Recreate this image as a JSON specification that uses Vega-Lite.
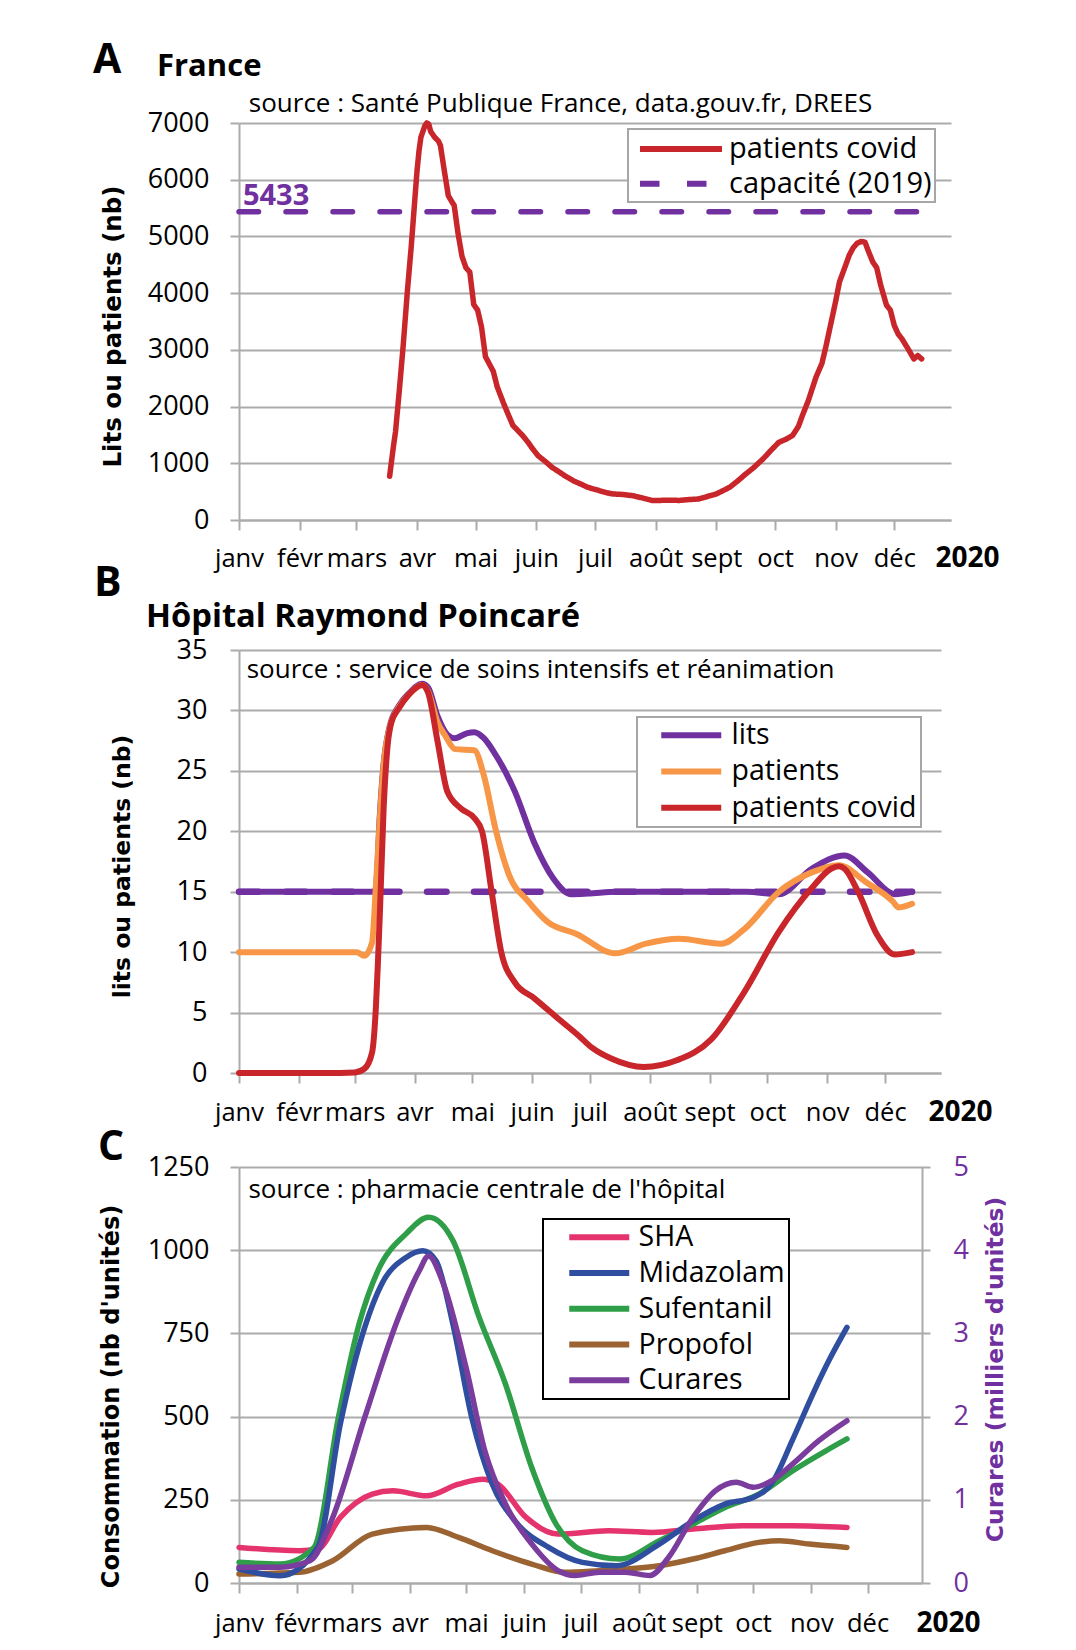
{
  "$schema": "https://vega.github.io/schema/vega-lite/v6.json",
  "background": "white",
  "padding": {"left": 93, "top": 39, "right": 2, "bottom": 2},
  "autosize": {"type": "pad"},
  "config": {
    "font": "Open Sans",
    "view": {"stroke": null},
    "axis": {"labelFont": "Open Sans", "labelFontSize": 27, "labelColor": "#000000", "titleFont": "DejaVu Sans", "titleFontSize": 23.5, "titleFontWeight": "bold", "titleColor": "#000000", "gridColor": "#ABABAB", "gridWidth": 2, "domainColor": "#ABABAB", "domainWidth": 2, "tickColor": "#ABABAB", "tickWidth": 2},
    "axisX": {"labelFontSize": 25.5},
    "legend": {"labelFont": "Open Sans", "labelColor": "#000000", "strokeWidth": 2, "fillColor": "#FFFFFF", "labelBaseline": "middle", "labelLimit": 400},
    "title": {"font": "Open Sans", "fontWeight": "bold", "color": "#000000", "anchor": "start", "frame": "group"}
  },
  "spacing": -9,
  "resolve": {"scale": {"color": "independent", "strokeDash": "independent"}, "legend": {"color": "independent", "strokeDash": "independent"}},
  "vconcat": [
    {
      "title": {"text": "A", "fontSize": 41, "dx": -146, "offset": -31},
      "resolve": {"scale": {"color": "independent", "strokeDash": "independent"}, "legend": {"color": "independent", "strokeDash": "independent"}},
      "vconcat": [
        {
          "width": 712,
          "height": 397,
          "title": {"text": "France", "fontSize": 31, "dx": -82, "offset": 8},
          "layer": [
            {
              "data": {"values": [
                {"d": "2020-03-18", "v": 770, "s": "patients covid"}, {"d": "2020-03-20", "v": 1310, "s": "patients covid"}, {"d": "2020-03-21", "v": 1550, "s": "patients covid"}, {"d": "2020-03-23", "v": 2300, "s": "patients covid"}, {"d": "2020-03-25", "v": 3100, "s": "patients covid"}, {"d": "2020-03-27", "v": 4000, "s": "patients covid"}, {"d": "2020-03-29", "v": 4800, "s": "patients covid"}, {"d": "2020-03-31", "v": 5700, "s": "patients covid"}, {"d": "2020-04-01", "v": 6150, "s": "patients covid"}, {"d": "2020-04-02", "v": 6500, "s": "patients covid"}, {"d": "2020-04-03", "v": 6750, "s": "patients covid"}, {"d": "2020-04-05", "v": 6950, "s": "patients covid"}, {"d": "2020-04-06", "v": 7000, "s": "patients covid"}, {"d": "2020-04-07", "v": 6980, "s": "patients covid"}, {"d": "2020-04-08", "v": 6850, "s": "patients covid"}, {"d": "2020-04-10", "v": 6750, "s": "patients covid"}, {"d": "2020-04-12", "v": 6680, "s": "patients covid"}, {"d": "2020-04-13", "v": 6600, "s": "patients covid"}, {"d": "2020-04-15", "v": 6150, "s": "patients covid"}, {"d": "2020-04-17", "v": 5720, "s": "patients covid"}, {"d": "2020-04-19", "v": 5600, "s": "patients covid"}, {"d": "2020-04-20", "v": 5550, "s": "patients covid"}, {"d": "2020-04-22", "v": 5050, "s": "patients covid"}, {"d": "2020-04-24", "v": 4650, "s": "patients covid"}, {"d": "2020-04-26", "v": 4450, "s": "patients covid"}, {"d": "2020-04-28", "v": 4370, "s": "patients covid"}, {"d": "2020-04-30", "v": 3800, "s": "patients covid"}, {"d": "2020-05-02", "v": 3700, "s": "patients covid"}, {"d": "2020-05-04", "v": 3400, "s": "patients covid"}, {"d": "2020-05-06", "v": 2880, "s": "patients covid"}, {"d": "2020-05-08", "v": 2750, "s": "patients covid"}, {"d": "2020-05-10", "v": 2620, "s": "patients covid"}, {"d": "2020-05-12", "v": 2350, "s": "patients covid"}, {"d": "2020-05-15", "v": 2080, "s": "patients covid"}, {"d": "2020-05-18", "v": 1830, "s": "patients covid"}, {"d": "2020-05-20", "v": 1670, "s": "patients covid"}, {"d": "2020-05-23", "v": 1560, "s": "patients covid"}, {"d": "2020-05-25", "v": 1490, "s": "patients covid"}, {"d": "2020-05-28", "v": 1360, "s": "patients covid"}, {"d": "2020-05-30", "v": 1260, "s": "patients covid"}, {"d": "2020-06-02", "v": 1130, "s": "patients covid"}, {"d": "2020-06-06", "v": 1020, "s": "patients covid"}, {"d": "2020-06-09", "v": 930, "s": "patients covid"}, {"d": "2020-06-13", "v": 840, "s": "patients covid"}, {"d": "2020-06-16", "v": 770, "s": "patients covid"}, {"d": "2020-06-20", "v": 690, "s": "patients covid"}, {"d": "2020-06-24", "v": 630, "s": "patients covid"}, {"d": "2020-06-27", "v": 580, "s": "patients covid"}, {"d": "2020-06-30", "v": 550, "s": "patients covid"}, {"d": "2020-07-04", "v": 510, "s": "patients covid"}, {"d": "2020-07-07", "v": 480, "s": "patients covid"}, {"d": "2020-07-10", "v": 460, "s": "patients covid"}, {"d": "2020-07-15", "v": 450, "s": "patients covid"}, {"d": "2020-07-20", "v": 430, "s": "patients covid"}, {"d": "2020-07-25", "v": 390, "s": "patients covid"}, {"d": "2020-07-30", "v": 345, "s": "patients covid"}, {"d": "2020-08-03", "v": 345, "s": "patients covid"}, {"d": "2020-08-08", "v": 350, "s": "patients covid"}, {"d": "2020-08-13", "v": 345, "s": "patients covid"}, {"d": "2020-08-18", "v": 360, "s": "patients covid"}, {"d": "2020-08-23", "v": 370, "s": "patients covid"}, {"d": "2020-08-27", "v": 410, "s": "patients covid"}, {"d": "2020-09-01", "v": 460, "s": "patients covid"}, {"d": "2020-09-04", "v": 510, "s": "patients covid"}, {"d": "2020-09-08", "v": 580, "s": "patients covid"}, {"d": "2020-09-12", "v": 690, "s": "patients covid"}, {"d": "2020-09-16", "v": 810, "s": "patients covid"}, {"d": "2020-09-20", "v": 920, "s": "patients covid"}, {"d": "2020-09-25", "v": 1080, "s": "patients covid"}, {"d": "2020-09-29", "v": 1230, "s": "patients covid"}, {"d": "2020-10-03", "v": 1370, "s": "patients covid"}, {"d": "2020-10-07", "v": 1430, "s": "patients covid"}, {"d": "2020-10-10", "v": 1490, "s": "patients covid"}, {"d": "2020-10-13", "v": 1650, "s": "patients covid"}, {"d": "2020-10-15", "v": 1840, "s": "patients covid"}, {"d": "2020-10-18", "v": 2100, "s": "patients covid"}, {"d": "2020-10-20", "v": 2310, "s": "patients covid"}, {"d": "2020-10-22", "v": 2520, "s": "patients covid"}, {"d": "2020-10-25", "v": 2760, "s": "patients covid"}, {"d": "2020-10-27", "v": 3050, "s": "patients covid"}, {"d": "2020-10-29", "v": 3370, "s": "patients covid"}, {"d": "2020-11-01", "v": 3850, "s": "patients covid"}, {"d": "2020-11-03", "v": 4200, "s": "patients covid"}, {"d": "2020-11-06", "v": 4480, "s": "patients covid"}, {"d": "2020-11-08", "v": 4670, "s": "patients covid"}, {"d": "2020-11-10", "v": 4800, "s": "patients covid"}, {"d": "2020-11-12", "v": 4880, "s": "patients covid"}, {"d": "2020-11-14", "v": 4910, "s": "patients covid"}, {"d": "2020-11-16", "v": 4900, "s": "patients covid"}, {"d": "2020-11-18", "v": 4720, "s": "patients covid"}, {"d": "2020-11-20", "v": 4550, "s": "patients covid"}, {"d": "2020-11-22", "v": 4450, "s": "patients covid"}, {"d": "2020-11-24", "v": 4150, "s": "patients covid"}, {"d": "2020-11-27", "v": 3790, "s": "patients covid"}, {"d": "2020-11-29", "v": 3700, "s": "patients covid"}, {"d": "2020-12-01", "v": 3430, "s": "patients covid"}, {"d": "2020-12-03", "v": 3280, "s": "patients covid"}, {"d": "2020-12-05", "v": 3190, "s": "patients covid"}, {"d": "2020-12-08", "v": 3020, "s": "patients covid"}, {"d": "2020-12-11", "v": 2840, "s": "patients covid"}, {"d": "2020-12-13", "v": 2900, "s": "patients covid"}, {"d": "2020-12-15", "v": 2840, "s": "patients covid"},
                {"d": "2020-01-01", "v": 5433, "s": "capacité (2019)"}, {"d": "2020-12-15", "v": 5433, "s": "capacité (2019)"}
              ]},
              "mark": {"type": "line", "strokeWidth": 5.5, "strokeCap": "round", "strokeJoin": "round"},
              "encoding": {
                "x": {"field": "d", "type": "temporal",
                  "scale": {"type": "utc", "domain": [{"year": 2020, "month": 1, "date": 1, "utc": true}, {"year": 2020, "month": 12, "date": 30, "utc": true}]},
                  "axis": {"values": [{"year": 2020, "month": 1, "date": 1, "utc": true}, {"year": 2020, "month": 2, "date": 1, "utc": true}, {"year": 2020, "month": 3, "date": 1, "utc": true}, {"year": 2020, "month": 4, "date": 1, "utc": true}, {"year": 2020, "month": 5, "date": 1, "utc": true}, {"year": 2020, "month": 6, "date": 1, "utc": true}, {"year": 2020, "month": 7, "date": 1, "utc": true}, {"year": 2020, "month": 8, "date": 1, "utc": true}, {"year": 2020, "month": 9, "date": 1, "utc": true}, {"year": 2020, "month": 10, "date": 1, "utc": true}, {"year": 2020, "month": 11, "date": 1, "utc": true}, {"year": 2020, "month": 12, "date": 1, "utc": true}],
                    "labelExpr": "['janv','févr','mars','avr','mai','juin','juil','août','sept','oct','nov','déc'][utcmonth(datum.value)]",
                    "grid": false, "tickSize": 10, "labelPadding": 36, "labelBaseline": "alphabetic", "labelAlign": "center", "labelFlush": false, "labelOverlap": false,
                    "title": "2020", "titleFont": "Open Sans", "titleFontSize": 28, "titleFontWeight": "bold", "titleX": 728, "titleY": 46, "titleAlign": "center", "titleBaseline": "alphabetic", "titleAngle": 0}},
                "y": {"field": "v", "type": "quantitative", "scale": {"domain": [0, 7000], "nice": false},
                  "axis": {"values": [0, 1000, 2000, 3000, 4000, 5000, 6000, 7000], "format": "d", "grid": true, "tickSize": 9, "labelPadding": 21, "labelBaseline": "middle",
                    "title": "Lits ou patients (nb)", "titleFontSize": 24.5, "titleX": -126, "titleY": 203, "titleAngle": -90, "titleAlign": "center", "titleBaseline": "middle"}},
                "color": {"field": "s", "type": "nominal", "scale": {"domain": ["patients covid", "capacité (2019)"], "range": ["#C8262B", "#7030A0"]},
                  "legend": {"orient": "none", "legendX": 389, "legendY": 6, "title": null, "symbolType": "M-3,0H3", "symbolSize": 747, "symbolStrokeWidth": 6, "symbolOffset": 33, "labelOffset": 31, "labelFontSize": 29, "padding": 3, "rowPadding": 2.7, "strokeColor": "#A6A6A6"}},
                "strokeDash": {"field": "s", "type": "nominal", "scale": {"domain": ["patients covid", "capacité (2019)"], "range": [[1, 0], [19.5, 27.5]]},
                  "legend": {"orient": "none", "legendX": 389, "legendY": 6, "title": null, "symbolType": "M-3,0H3", "symbolSize": 747, "symbolStrokeWidth": 6, "symbolOffset": 33, "labelOffset": 31, "labelFontSize": 29, "padding": 3, "rowPadding": 2.7, "strokeColor": "#A6A6A6"}}
              }
            },
            {
              "data": {"values": [{}]},
              "mark": {"type": "text", "text": "5433", "font": "Open Sans", "fontSize": 29, "fontWeight": "bold", "color": "#7030A0", "align": "left", "baseline": "alphabetic"},
              "encoding": {"x": {"datum": {"year": 2020, "month": 1, "date": 3, "utc": true}, "type": "temporal"}, "y": {"datum": 5553, "type": "quantitative"}}
            },
            {
              "data": {"values": [{}]},
              "mark": {"type": "text", "text": "source : Santé Publique France, data.gouv.fr, DREES", "font": "Open Sans", "fontSize": 26, "color": "#000000", "align": "left", "baseline": "alphabetic"},
              "encoding": {"x": {"datum": {"year": 2020, "month": 1, "date": 6, "utc": true}, "type": "temporal"}, "y": {"datum": 7194, "type": "quantitative"}}
            }
          ]
        }
      ]
    },
    {
      "spacing": 1,
      "resolve": {"scale": {"color": "independent", "strokeDash": "independent"}, "legend": {"color": "independent", "strokeDash": "independent"}},
      "vconcat": [
        {
          "title": {"text": "B", "fontSize": 41, "dx": -145, "offset": -4},
          "resolve": {"scale": {"color": "independent"}, "legend": {"color": "independent"}},
          "vconcat": [
            {
              "width": 702,
              "height": 423,
              "title": {"text": "Hôpital Raymond Poincaré", "fontSize": 32.7, "dx": -93, "offset": 2},
              "layer": [
                {
                  "data": {"values": [{"d": "2020-01-01", "v": 15}, {"d": "2020-12-15", "v": 15}]},
                  "mark": {"type": "line", "color": "#7030A0", "strokeWidth": 6.5, "strokeDash": [19.5, 27.5], "strokeCap": "round"},
                  "encoding": {
                    "x": {"field": "d", "type": "temporal",
                      "scale": {"type": "utc", "domain": [{"year": 2020, "month": 1, "date": 1, "utc": true}, {"year": 2020, "month": 12, "date": 30, "utc": true}]},
                      "axis": {"values": [{"year": 2020, "month": 1, "date": 1, "utc": true}, {"year": 2020, "month": 2, "date": 1, "utc": true}, {"year": 2020, "month": 3, "date": 1, "utc": true}, {"year": 2020, "month": 4, "date": 1, "utc": true}, {"year": 2020, "month": 5, "date": 1, "utc": true}, {"year": 2020, "month": 6, "date": 1, "utc": true}, {"year": 2020, "month": 7, "date": 1, "utc": true}, {"year": 2020, "month": 8, "date": 1, "utc": true}, {"year": 2020, "month": 9, "date": 1, "utc": true}, {"year": 2020, "month": 10, "date": 1, "utc": true}, {"year": 2020, "month": 11, "date": 1, "utc": true}, {"year": 2020, "month": 12, "date": 1, "utc": true}],
                        "labelExpr": "['janv','févr','mars','avr','mai','juin','juil','août','sept','oct','nov','déc'][utcmonth(datum.value)]",
                        "grid": false, "tickSize": 10, "labelPadding": 37, "labelBaseline": "alphabetic", "labelAlign": "center", "labelFlush": false, "labelOverlap": false,
                        "title": "2020", "titleFont": "Open Sans", "titleFontSize": 28, "titleFontWeight": "bold", "titleX": 721, "titleY": 47, "titleAlign": "center", "titleBaseline": "alphabetic", "titleAngle": 0}},
                    "y": {"field": "v", "type": "quantitative", "scale": {"domain": [0, 35], "nice": false},
                      "axis": {"values": [0, 5, 10, 15, 20, 25, 30, 35], "grid": true, "tickSize": 9, "labelPadding": 23, "labelBaseline": "middle",
                        "title": "lits ou patients (nb)", "titleX": -117, "titleY": 216, "titleAngle": -90, "titleAlign": "center", "titleBaseline": "middle"}}
                  }
                },
                {
                  "data": {"values": [
                    {"d": "2020-01-01", "v": 15, "s": "lits"}, {"d": "2020-03-11", "v": 15, "s": "lits"}, {"d": "2020-03-12", "v": 15.3, "s": "lits"}, {"d": "2020-03-14", "v": 21.3, "s": "lits"}, {"d": "2020-03-16", "v": 25.6, "s": "lits"}, {"d": "2020-03-19", "v": 28.6, "s": "lits"}, {"d": "2020-03-24", "v": 30.4, "s": "lits"}, {"d": "2020-03-29", "v": 31.4, "s": "lits"}, {"d": "2020-04-05", "v": 32.2, "s": "lits"}, {"d": "2020-04-08", "v": 31.9, "s": "lits"}, {"d": "2020-04-13", "v": 29.5, "s": "lits"}, {"d": "2020-04-18", "v": 28, "s": "lits"}, {"d": "2020-04-22", "v": 27.7, "s": "lits"}, {"d": "2020-04-28", "v": 28.1, "s": "lits"}, {"d": "2020-05-02", "v": 28.2, "s": "lits"}, {"d": "2020-05-07", "v": 27.7, "s": "lits"}, {"d": "2020-05-12", "v": 26.6, "s": "lits"}, {"d": "2020-05-23", "v": 23.3, "s": "lits"}, {"d": "2020-06-02", "v": 19.1, "s": "lits"}, {"d": "2020-06-12", "v": 16.1, "s": "lits"}, {"d": "2020-06-21", "v": 14.8, "s": "lits"}, {"d": "2020-06-30", "v": 14.85, "s": "lits"}, {"d": "2020-07-15", "v": 15, "s": "lits"}, {"d": "2020-09-20", "v": 15, "s": "lits"}, {"d": "2020-10-07", "v": 14.8, "s": "lits"}, {"d": "2020-10-24", "v": 16.9, "s": "lits"}, {"d": "2020-11-10", "v": 18, "s": "lits"}, {"d": "2020-11-22", "v": 16.6, "s": "lits"}, {"d": "2020-12-06", "v": 14.8, "s": "lits"}, {"d": "2020-12-15", "v": 15, "s": "lits"},
                    {"d": "2020-01-01", "v": 10, "s": "patients"}, {"d": "2020-03-02", "v": 10, "s": "patients"}, {"d": "2020-03-06", "v": 9.7, "s": "patients"}, {"d": "2020-03-10", "v": 10.8, "s": "patients"}, {"d": "2020-03-12", "v": 15.5, "s": "patients"}, {"d": "2020-03-14", "v": 21, "s": "patients"}, {"d": "2020-03-16", "v": 25.5, "s": "patients"}, {"d": "2020-03-19", "v": 28.5, "s": "patients"}, {"d": "2020-03-24", "v": 30.3, "s": "patients"}, {"d": "2020-03-29", "v": 31.3, "s": "patients"}, {"d": "2020-04-05", "v": 32.1, "s": "patients"}, {"d": "2020-04-08", "v": 31.6, "s": "patients"}, {"d": "2020-04-13", "v": 29, "s": "patients"}, {"d": "2020-04-17", "v": 27.9, "s": "patients"}, {"d": "2020-04-22", "v": 26.8, "s": "patients"}, {"d": "2020-05-02", "v": 26.7, "s": "patients"}, {"d": "2020-05-07", "v": 24.6, "s": "patients"}, {"d": "2020-05-13", "v": 20.2, "s": "patients"}, {"d": "2020-05-20", "v": 16.4, "s": "patients"}, {"d": "2020-05-30", "v": 14.2, "s": "patients"}, {"d": "2020-06-09", "v": 12.5, "s": "patients"}, {"d": "2020-06-24", "v": 11.5, "s": "patients"}, {"d": "2020-07-14", "v": 9.9, "s": "patients"}, {"d": "2020-07-30", "v": 10.7, "s": "patients"}, {"d": "2020-08-16", "v": 11.1, "s": "patients"}, {"d": "2020-09-07", "v": 10.7, "s": "patients"}, {"d": "2020-09-19", "v": 11.9, "s": "patients"}, {"d": "2020-10-07", "v": 15, "s": "patients"}, {"d": "2020-10-24", "v": 16.6, "s": "patients"}, {"d": "2020-11-07", "v": 17.2, "s": "patients"}, {"d": "2020-11-21", "v": 15.8, "s": "patients"}, {"d": "2020-12-05", "v": 14.2, "s": "patients"}, {"d": "2020-12-08", "v": 13.7, "s": "patients"}, {"d": "2020-12-15", "v": 14, "s": "patients"},
                    {"d": "2020-01-01", "v": 0, "s": "patients covid"}, {"d": "2020-02-15", "v": 0, "s": "patients covid"}, {"d": "2020-03-01", "v": 0.05, "s": "patients covid"}, {"d": "2020-03-06", "v": 0.35, "s": "patients covid"}, {"d": "2020-03-10", "v": 1.7, "s": "patients covid"}, {"d": "2020-03-12", "v": 5.5, "s": "patients covid"}, {"d": "2020-03-13", "v": 9, "s": "patients covid"}, {"d": "2020-03-14", "v": 13, "s": "patients covid"}, {"d": "2020-03-16", "v": 21.9, "s": "patients covid"}, {"d": "2020-03-18", "v": 27, "s": "patients covid"}, {"d": "2020-03-20", "v": 29, "s": "patients covid"}, {"d": "2020-03-24", "v": 30.2, "s": "patients covid"}, {"d": "2020-03-29", "v": 31.3, "s": "patients covid"}, {"d": "2020-04-05", "v": 32.1, "s": "patients covid"}, {"d": "2020-04-08", "v": 31.5, "s": "patients covid"}, {"d": "2020-04-13", "v": 27.4, "s": "patients covid"}, {"d": "2020-04-18", "v": 23.3, "s": "patients covid"}, {"d": "2020-04-25", "v": 21.9, "s": "patients covid"}, {"d": "2020-05-02", "v": 21.1, "s": "patients covid"}, {"d": "2020-05-06", "v": 20, "s": "patients covid"}, {"d": "2020-05-11", "v": 15, "s": "patients covid"}, {"d": "2020-05-16", "v": 10, "s": "patients covid"}, {"d": "2020-05-23", "v": 7.5, "s": "patients covid"}, {"d": "2020-06-02", "v": 6.2, "s": "patients covid"}, {"d": "2020-06-16", "v": 4.3, "s": "patients covid"}, {"d": "2020-06-25", "v": 3.1, "s": "patients covid"}, {"d": "2020-07-02", "v": 2.1, "s": "patients covid"}, {"d": "2020-07-12", "v": 1.2, "s": "patients covid"}, {"d": "2020-07-29", "v": 0.5, "s": "patients covid"}, {"d": "2020-08-15", "v": 1.05, "s": "patients covid"}, {"d": "2020-09-02", "v": 2.8, "s": "patients covid"}, {"d": "2020-09-19", "v": 6.7, "s": "patients covid"}, {"d": "2020-10-07", "v": 11.7, "s": "patients covid"}, {"d": "2020-10-24", "v": 15.3, "s": "patients covid"}, {"d": "2020-11-03", "v": 16.9, "s": "patients covid"}, {"d": "2020-11-07", "v": 17.1, "s": "patients covid"}, {"d": "2020-11-10", "v": 16.9, "s": "patients covid"}, {"d": "2020-11-17", "v": 15, "s": "patients covid"}, {"d": "2020-11-27", "v": 11.4, "s": "patients covid"}, {"d": "2020-12-06", "v": 9.8, "s": "patients covid"}, {"d": "2020-12-15", "v": 10, "s": "patients covid"}
                  ]},
                  "mark": {"type": "line", "strokeWidth": 6, "interpolate": "monotone", "strokeCap": "round", "strokeJoin": "round"},
                  "encoding": {
                    "x": {"field": "d", "type": "temporal", "scale": {"type": "utc", "domain": [{"year": 2020, "month": 1, "date": 1, "utc": true}, {"year": 2020, "month": 12, "date": 30, "utc": true}]}},
                    "y": {"field": "v", "type": "quantitative", "scale": {"domain": [0, 35], "nice": false}},
                    "color": {"field": "s", "type": "nominal", "scale": {"domain": ["lits", "patients", "patients covid"], "range": ["#7030A0", "#F79646", "#C8262B"]},
                      "legend": {"orient": "none", "legendX": 398, "legendY": 67, "title": null, "symbolType": "M-3,0H3", "symbolSize": 400, "symbolStrokeWidth": 6, "symbolOffset": 36, "labelOffset": 26, "labelFontSize": 28.5, "padding": 4, "rowPadding": 7.2, "strokeColor": "#A6A6A6"}}
                  }
                },
                {
                  "data": {"values": [{}]},
                  "mark": {"type": "text", "text": "source : service de soins intensifs et réanimation", "font": "Open Sans", "fontSize": 26, "color": "#000000", "align": "left", "baseline": "alphabetic"},
                  "encoding": {"x": {"datum": {"year": 2020, "month": 1, "date": 5, "utc": true}, "type": "temporal"}, "y": {"datum": 32.7, "type": "quantitative"}}
                }
              ]
            }
          ]
        },
        {
          "width": 683,
          "height": 416,
          "title": {"text": "C", "fontSize": 41, "dx": -141, "offset": -16},
          "resolve": {"scale": {"y": "independent"}},
          "layer": [
            {
              "layer": [
                {
                  "data": {"values": [
                    {"d": "2020-01-01", "v": 107, "m": "SHA"}, {"d": "2020-02-02", "v": 97, "m": "SHA"}, {"d": "2020-02-12", "v": 102, "m": "SHA"}, {"d": "2020-02-24", "v": 197, "m": "SHA"}, {"d": "2020-03-12", "v": 267, "m": "SHA"}, {"d": "2020-03-23", "v": 277, "m": "SHA"}, {"d": "2020-04-10", "v": 262, "m": "SHA"}, {"d": "2020-04-27", "v": 297, "m": "SHA"}, {"d": "2020-05-10", "v": 312, "m": "SHA"}, {"d": "2020-05-18", "v": 297, "m": "SHA"}, {"d": "2020-06-02", "v": 197, "m": "SHA"}, {"d": "2020-06-19", "v": 147, "m": "SHA"}, {"d": "2020-07-16", "v": 157, "m": "SHA"}, {"d": "2020-08-08", "v": 152, "m": "SHA"}, {"d": "2020-08-30", "v": 162, "m": "SHA"}, {"d": "2020-09-25", "v": 172, "m": "SHA"}, {"d": "2020-10-22", "v": 172, "m": "SHA"}, {"d": "2020-11-20", "v": 167, "m": "SHA"},
                    {"d": "2020-01-01", "v": 27, "m": "Propofol"}, {"d": "2020-02-02", "v": 32, "m": "Propofol"}, {"d": "2020-02-20", "v": 67, "m": "Propofol"}, {"d": "2020-03-12", "v": 147, "m": "Propofol"}, {"d": "2020-04-10", "v": 167, "m": "Propofol"}, {"d": "2020-04-27", "v": 137, "m": "Propofol"}, {"d": "2020-05-15", "v": 97, "m": "Propofol"}, {"d": "2020-06-05", "v": 57, "m": "Propofol"}, {"d": "2020-06-23", "v": 32, "m": "Propofol"}, {"d": "2020-07-11", "v": 37, "m": "Propofol"}, {"d": "2020-07-25", "v": 42, "m": "Propofol"}, {"d": "2020-08-12", "v": 52, "m": "Propofol"}, {"d": "2020-08-30", "v": 72, "m": "Propofol"}, {"d": "2020-09-16", "v": 97, "m": "Propofol"}, {"d": "2020-10-04", "v": 122, "m": "Propofol"}, {"d": "2020-10-15", "v": 127, "m": "Propofol"}, {"d": "2020-10-31", "v": 117, "m": "Propofol"}, {"d": "2020-11-20", "v": 107, "m": "Propofol"},
                    {"d": "2020-01-01", "v": 62, "m": "Sufentanil"}, {"d": "2020-01-23", "v": 57, "m": "Sufentanil"}, {"d": "2020-02-10", "v": 107, "m": "Sufentanil"}, {"d": "2020-02-23", "v": 498, "m": "Sufentanil"}, {"d": "2020-03-05", "v": 778, "m": "Sufentanil"}, {"d": "2020-03-15", "v": 938, "m": "Sufentanil"}, {"d": "2020-03-30", "v": 1049, "m": "Sufentanil"}, {"d": "2020-04-11", "v": 1099, "m": "Sufentanil"}, {"d": "2020-04-24", "v": 1029, "m": "Sufentanil"}, {"d": "2020-05-08", "v": 798, "m": "Sufentanil"}, {"d": "2020-05-22", "v": 598, "m": "Sufentanil"}, {"d": "2020-06-05", "v": 347, "m": "Sufentanil"}, {"d": "2020-06-18", "v": 177, "m": "Sufentanil"}, {"d": "2020-07-02", "v": 97, "m": "Sufentanil"}, {"d": "2020-07-22", "v": 72, "m": "Sufentanil"}, {"d": "2020-08-12", "v": 127, "m": "Sufentanil"}, {"d": "2020-08-30", "v": 177, "m": "Sufentanil"}, {"d": "2020-09-16", "v": 227, "m": "Sufentanil"}, {"d": "2020-10-04", "v": 267, "m": "Sufentanil"}, {"d": "2020-10-22", "v": 337, "m": "Sufentanil"}, {"d": "2020-11-09", "v": 398, "m": "Sufentanil"}, {"d": "2020-11-20", "v": 433, "m": "Sufentanil"},
                    {"d": "2020-01-01", "v": 42, "m": "Midazolam"}, {"d": "2020-01-23", "v": 22, "m": "Midazolam"}, {"d": "2020-02-12", "v": 107, "m": "Midazolam"}, {"d": "2020-02-24", "v": 478, "m": "Midazolam"}, {"d": "2020-03-08", "v": 768, "m": "Midazolam"}, {"d": "2020-03-17", "v": 898, "m": "Midazolam"}, {"d": "2020-03-30", "v": 978, "m": "Midazolam"}, {"d": "2020-04-08", "v": 998, "m": "Midazolam"}, {"d": "2020-04-15", "v": 968, "m": "Midazolam"}, {"d": "2020-04-24", "v": 778, "m": "Midazolam"}, {"d": "2020-05-04", "v": 498, "m": "Midazolam"}, {"d": "2020-05-15", "v": 297, "m": "Midazolam"}, {"d": "2020-05-27", "v": 187, "m": "Midazolam"}, {"d": "2020-06-14", "v": 107, "m": "Midazolam"}, {"d": "2020-07-02", "v": 62, "m": "Midazolam"}, {"d": "2020-07-20", "v": 52, "m": "Midazolam"}, {"d": "2020-08-12", "v": 117, "m": "Midazolam"}, {"d": "2020-08-30", "v": 187, "m": "Midazolam"}, {"d": "2020-09-16", "v": 237, "m": "Midazolam"}, {"d": "2020-10-01", "v": 257, "m": "Midazolam"}, {"d": "2020-10-11", "v": 300, "m": "Midazolam"}, {"d": "2020-10-22", "v": 430, "m": "Midazolam"}, {"d": "2020-11-02", "v": 570, "m": "Midazolam"}, {"d": "2020-11-11", "v": 675, "m": "Midazolam"}, {"d": "2020-11-20", "v": 768, "m": "Midazolam"}
                  ]},
                  "mark": {"type": "line", "strokeWidth": 5.5, "interpolate": "monotone", "strokeCap": "round", "strokeJoin": "round"},
                  "encoding": {
                    "x": {"field": "d", "type": "temporal",
                      "scale": {"type": "utc", "domain": [{"year": 2020, "month": 1, "date": 1, "utc": true}, {"year": 2020, "month": 12, "date": 30, "utc": true}]},
                      "axis": {"values": [{"year": 2020, "month": 1, "date": 1, "utc": true}, {"year": 2020, "month": 2, "date": 1, "utc": true}, {"year": 2020, "month": 3, "date": 1, "utc": true}, {"year": 2020, "month": 4, "date": 1, "utc": true}, {"year": 2020, "month": 5, "date": 1, "utc": true}, {"year": 2020, "month": 6, "date": 1, "utc": true}, {"year": 2020, "month": 7, "date": 1, "utc": true}, {"year": 2020, "month": 8, "date": 1, "utc": true}, {"year": 2020, "month": 9, "date": 1, "utc": true}, {"year": 2020, "month": 10, "date": 1, "utc": true}, {"year": 2020, "month": 11, "date": 1, "utc": true}, {"year": 2020, "month": 12, "date": 1, "utc": true}],
                        "labelExpr": "['janv','févr','mars','avr','mai','juin','juil','août','sept','oct','nov','déc'][utcmonth(datum.value)]",
                        "grid": false, "tickSize": 10, "labelPadding": 38, "labelBaseline": "alphabetic", "labelAlign": "center", "labelFlush": false, "labelOverlap": false,
                        "title": "2020", "titleFont": "Open Sans", "titleFontSize": 28, "titleFontWeight": "bold", "titleX": 709, "titleY": 48, "titleAlign": "center", "titleBaseline": "alphabetic", "titleAngle": 0}},
                    "y": {"field": "v", "type": "quantitative", "scale": {"domain": [0, 1250], "nice": false},
                      "axis": {"values": [0, 250, 500, 750, 1000, 1250], "format": "d", "grid": true, "tickSize": 9, "labelPadding": 21, "labelBaseline": "middle",
                        "title": "Consommation (nb d'unités)", "titleFontSize": 24, "titleX": -128, "titleY": 229, "titleAngle": -90, "titleAlign": "center", "titleBaseline": "middle"}},
                    "color": {"field": "m", "type": "nominal", "scale": {"domain": ["SHA", "Midazolam", "Sufentanil", "Propofol", "Curares"], "range": ["#E5336E", "#2F4E9F", "#2F9E48", "#9B6332", "#7B3D9D"]},
                      "legend": {"orient": "none", "legendX": 304, "legendY": 52, "title": null, "symbolType": "M-3,0H3", "symbolSize": 400, "symbolStrokeWidth": 6, "symbolOffset": 38, "labelOffset": 25, "labelFontSize": 28.5, "padding": 4, "rowPadding": 6.75, "strokeColor": "#000000"}}
                  }
                },
                {
                  "data": {"values": [{}]},
                  "mark": {"type": "text", "text": "source : pharmacie centrale de l'hôpital", "font": "Open Sans", "fontSize": 26, "color": "#000000", "align": "left", "baseline": "alphabetic"},
                  "encoding": {"x": {"datum": {"year": 2020, "month": 1, "date": 6, "utc": true}, "type": "temporal"}, "y": {"datum": 1158, "type": "quantitative"}}
                }
              ]
            },
            {
              "data": {"values": [
                {"d": "2020-01-01", "k": 0.19, "m": "Curares"}, {"d": "2020-01-23", "k": 0.19, "m": "Curares"}, {"d": "2020-02-08", "k": 0.27, "m": "Curares"}, {"d": "2020-02-20", "k": 0.79, "m": "Curares"}, {"d": "2020-03-08", "k": 1.99, "m": "Curares"}, {"d": "2020-03-26", "k": 3.19, "m": "Curares"}, {"d": "2020-04-06", "k": 3.75, "m": "Curares"}, {"d": "2020-04-11", "k": 3.93, "m": "Curares"}, {"d": "2020-04-19", "k": 3.59, "m": "Curares"}, {"d": "2020-05-01", "k": 2.59, "m": "Curares"}, {"d": "2020-05-11", "k": 1.59, "m": "Curares"}, {"d": "2020-05-22", "k": 0.95, "m": "Curares"}, {"d": "2020-06-05", "k": 0.47, "m": "Curares"}, {"d": "2020-06-19", "k": 0.15, "m": "Curares"}, {"d": "2020-06-28", "k": 0.09, "m": "Curares"}, {"d": "2020-07-11", "k": 0.13, "m": "Curares"}, {"d": "2020-07-25", "k": 0.13, "m": "Curares"}, {"d": "2020-08-07", "k": 0.09, "m": "Curares"}, {"d": "2020-08-17", "k": 0.31, "m": "Curares"}, {"d": "2020-08-30", "k": 0.79, "m": "Curares"}, {"d": "2020-09-11", "k": 1.11, "m": "Curares"}, {"d": "2020-09-22", "k": 1.21, "m": "Curares"}, {"d": "2020-10-01", "k": 1.15, "m": "Curares"}, {"d": "2020-10-11", "k": 1.23, "m": "Curares"}, {"d": "2020-10-22", "k": 1.43, "m": "Curares"}, {"d": "2020-11-05", "k": 1.71, "m": "Curares"}, {"d": "2020-11-20", "k": 1.95, "m": "Curares"}
              ]},
              "mark": {"type": "line", "strokeWidth": 5.5, "interpolate": "monotone", "strokeCap": "round", "strokeJoin": "round"},
              "encoding": {
                "x": {"field": "d", "type": "temporal", "scale": {"type": "utc", "domain": [{"year": 2020, "month": 1, "date": 1, "utc": true}, {"year": 2020, "month": 12, "date": 30, "utc": true}]}},
                "y": {"field": "k", "type": "quantitative", "scale": {"domain": [0, 5], "nice": false},
                  "axis": {"orient": "right", "values": [0, 1, 2, 3, 4, 5], "grid": false, "labelColor": "#7030A0", "tickSize": 8, "labelPadding": 23, "labelBaseline": "middle",
                    "title": "Curares (milliers d'unités)", "titleColor": "#7030A0", "titleX": 73, "titleY": 202, "titleAngle": -90, "titleAlign": "center", "titleBaseline": "middle"}},
                "color": {"field": "m", "type": "nominal", "scale": {"domain": ["SHA", "Midazolam", "Sufentanil", "Propofol", "Curares"], "range": ["#E5336E", "#2F4E9F", "#2F9E48", "#9B6332", "#7B3D9D"]}}
              }
            }
          ]
        }
      ]
    }
  ]
}
